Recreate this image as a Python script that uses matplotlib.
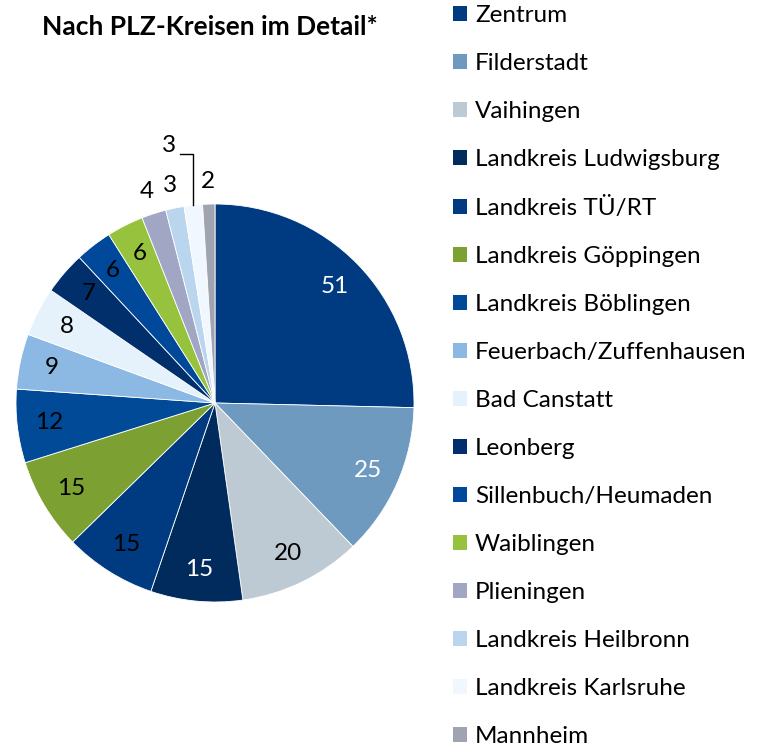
import matplotlib
matplotlib.use("Agg")
import matplotlib.pyplot as plt
import numpy as np

labels = ["Zentrum", "Filderstadt", "Vaihingen", "Landkreis Ludwigsburg",
          "Landkreis TÜ/RT", "Landkreis Göppingen", "Landkreis Böblingen",
          "Feuerbach/Zuffenhausen", "Bad Canstatt", "Leonberg",
          "Sillenbuch/Heumaden", "Waiblingen", "Plieningen",
          "Landkreis Heilbronn", "Landkreis Karlsruhe", "Mannheim"]
values = [51, 25, 20, 15, 15, 15, 12, 9, 8, 7, 6, 6, 4, 3, 3, 2]
colors = ["#003A80", "#6E9AC0", "#BDC9D3", "#002B5C", "#003A80", "#7CA032",
          "#004A98", "#8CB9E3", "#E5F2FC", "#002F6C", "#00489A", "#97C23D",
          "#A0A6C4", "#BAD5EE", "#F0F7FE", "#A0A3B0"]
text_colors = ["white", "white", "black", "white", "black", "black", "black",
               "black", "black", "black", "black", "black"]
title = "Nach PLZ-Kreisen im Detail*"

plt.rcParams['font.family'] = ['Lato', 'DejaVu Sans']
FS = 17.5

fig = plt.figure(figsize=(7.67, 7.46), dpi=100)
W, H = 767, 746
cx, cy, r = 215, 403, 199
ax = fig.add_axes([(cx - r) / W, (H - cy - r) / H, 2 * r / W, 2 * r / H])
wedges, _ = ax.pie(values, colors=colors, startangle=90, counterclock=False,
                   radius=1.0, wedgeprops=dict(linewidth=0.6, edgecolor="white"))
ax.set_xlim(-1, 1)
ax.set_ylim(-1, 1)
ax.set_aspect("equal")
ax.axis("off")

total = sum(values)
cum = np.cumsum([0] + values)
for i, v in enumerate(values):
    frac = (cum[i] + v / 2) / total
    ang = np.deg2rad(90 - 360 * frac)
    if i < 12:
        d = 0.84
        ax.text(d * np.cos(ang), d * np.sin(ang), str(v), ha="center", va="center",
                fontsize=FS, color=text_colors[i])
    elif i == 14:
        x0, y0 = np.cos(ang), np.sin(ang)
        ax.plot([x0, x0, -0.176], [y0, 1.251, 1.251], color="black", lw=1,
                clip_on=False)
        ax.text(-0.231, 1.296, str(v), ha="center", va="center", fontsize=FS)
    else:
        d = 1.115
        ax.text(d * np.cos(ang), d * np.sin(ang), str(v), ha="center", va="center",
                fontsize=FS)

fig.text(210 / W, 1 - 27 / H, title, ha="center", va="center",
         fontsize=19, fontweight="bold")

leg = fig.legend(wedges, labels, loc="upper left", bbox_to_anchor=(453 / W, 1 - 5 / H),
                 frameon=False, fontsize=FS, handlelength=0.58, handleheight=0.58,
                 handletextpad=0.33, labelspacing=1.11, borderaxespad=0, borderpad=0)
for h in leg.legend_handles:
    h.set_edgecolor("none")

fig.savefig("out.png", dpi=100)
